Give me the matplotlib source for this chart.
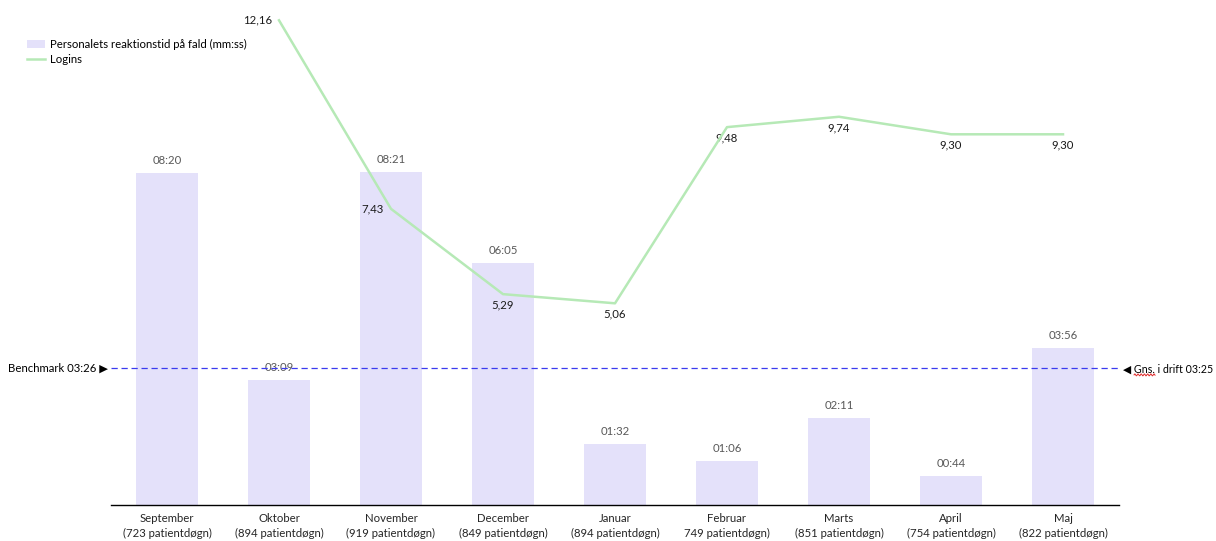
import numpy as np
import matplotlib
matplotlib.use('Agg')
import matplotlib.pyplot as plt
from matplotlib.patches import Patch
from matplotlib.lines import Line2D

plt.rcParams['font.family'] = ['Lato', 'DejaVu Sans']

# Months and patient-days per month
months = ['September', 'Oktober', 'November', 'December', 'Januar',
          'Februar', 'Marts', 'April', 'Maj']
patient_days = ['(723 patientdøgn)', '(894 patientdøgn)', '(919 patientdøgn)',
                '(849 patientdøgn)', '(894 patientdøgn)', '749 patientdøgn)',
                '(851 patientdøgn)', '(754 patientdøgn)', '(822 patientdøgn)']

# Staff reaction time to falls, in seconds (shown as mm:ss)
reaction_sec = [500, 189, 501, 365, 92, 66, 131, 44, 236]

# Logins per month (no value for September)
logins = [np.nan, 12.16, 7.43, 5.29, 5.06, 9.48, 9.74, 9.30, 9.30]
login_label_pos = ['left', 'left', 'left', 'below', 'below', 'below', 'below', 'below', 'below']

benchmark_sec = 206   # 03:26
drift_avg_sec = 205   # 03:25

bar_color = '#e4e1fa'
line_color = '#b6e9b6'
label_grey = '#595959'
fs = 8.2


def mmss(s):
    return f"{int(s) // 60:02d}:{int(s) % 60:02d}"


fig = plt.figure(figsize=(12.16, 5.41), dpi=100)
ax = fig.add_axes([111 / 1216, 1 - 505 / 541, 1008 / 1216, 490 / 541])
ax2 = ax.twinx()

x = np.arange(len(months))
bars = ax.bar(x, reaction_sec, width=0.55, color=bar_color, zorder=1)
ax.set_xlim(-0.5, len(months) - 0.5)
ax.set_ylim(0, 490 / 0.664)

for xi, v in zip(x, reaction_sec):
    ax.annotate(mmss(v), (xi, v), xytext=(0, 5), textcoords='offset points',
                ha='center', va='bottom', fontsize=fs, color=label_grey)

# Benchmark / average dashed line with arrow labels at either end
ax.axhline(benchmark_sec, color='#3a3af0', lw=0.9, ls=(0, (5, 3)), zorder=3)
ax.annotate(f"Benchmark {mmss(benchmark_sec)} \u25B6", (0, benchmark_sec),
            xycoords=('axes fraction', 'data'), xytext=(-2, 0),
            textcoords='offset points', ha='right', va='center',
            fontsize=fs, color='black', annotation_clip=False)
drift_fs = 7.7
drift_txt = ax.annotate(f"\u25C0 Gns. i drift {mmss(drift_avg_sec)}", (1, drift_avg_sec),
                        xycoords=('axes fraction', 'data'), xytext=(3, 0),
                        textcoords='offset points', ha='left', va='center',
                        fontsize=drift_fs, color='black', annotation_clip=False)

line, = ax2.plot(x, logins, color=line_color, lw=1.8, zorder=4)
ax2.set_ylim(0, 490 / 39.86)
for xi, v, pos in zip(x, logins, login_label_pos):
    if np.isnan(v):
        continue
    txt = f"{v:.2f}".replace('.', ',')
    if pos == 'left':
        ax2.annotate(txt, (xi, v), xytext=(-5, 0), textcoords='offset points',
                     ha='right', va='center', fontsize=fs, color='#1a1a1a')
    else:
        ax2.annotate(txt, (xi, v), xytext=(0, -4), textcoords='offset points',
                     ha='center', va='top', fontsize=fs, color='#1a1a1a')

ax.set_xticks(x)
ax.set_xticklabels([f"{m}\n{p}" for m, p in zip(months, patient_days)],
                   fontsize=fs, color='#262626', linespacing=1.35)
ax.tick_params(axis='x', length=0, pad=6)
ax.set_yticks([])
ax2.set_yticks([])
for a in (ax, ax2):
    for side in ('top', 'left', 'right'):
        a.spines[side].set_visible(False)
ax2.spines['bottom'].set_visible(False)
ax.spines['bottom'].set_color('black')
ax.spines['bottom'].set_linewidth(1.0)

handles = [Patch(facecolor=bar_color, edgecolor='none'),
           Line2D([], [], color=line_color, lw=1.8)]
fig.legend(handles, ['Personalets reaktionstid på fald (mm:ss)', 'Logins'],
           loc='upper left', bbox_to_anchor=(22 / 1216, 1 - 34 / 541),
           frameon=False, fontsize=fs, handlelength=1.6, handletextpad=0.5,
           labelspacing=0.4, borderaxespad=0)

# red spell-check squiggle under "Gns."
fig.canvas.draw()
renderer = fig.canvas.get_renderer()
bb = drift_txt.get_window_extent(renderer)
probe = fig.text(0, 0, "\u25C0 ", fontsize=drift_fs)
w0 = probe.get_window_extent(renderer).width
probe.set_text("\u25C0 Gns.")
w1 = probe.get_window_extent(renderer).width
probe.remove()
sx = np.linspace(bb.x0 + w0, bb.x0 + w1, 40)
sy = bb.y0 - 0.5 + 1.0 * np.sin((sx - sx[0]) * np.pi / 1.6)
fig.add_artist(Line2D(sx / fig.bbox.width, sy / fig.bbox.height,
                      color='#e03030', lw=0.7, transform=fig.transFigure))

fig.savefig('out.png', dpi=100)
